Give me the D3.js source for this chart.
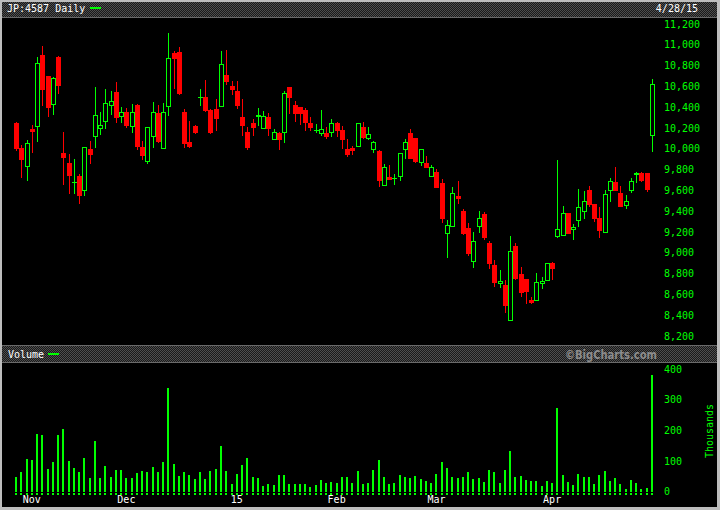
<!DOCTYPE html>
<html><head><meta charset="utf-8">
<script src="https://cdn.jsdelivr.net/npm/d3@7"></script>
<style>html,body{margin:0;padding:0;background:#000;}svg{display:block;}</style>
</head><body>
<svg id="chart" width="720" height="510"></svg>
<script>
// ---- data (trading days, Oct 29 2014 .. Apr 28 2015) ----
const openP  = [10245,10008,9822,10190,10212,10902,10700,10418,10880,9960,9863,9675,9741,9597,9998,10116,10193,10255,10409,10546,10303,10354,10207,10421,10017,9876,10116,10341,9995,10399,10918,10928,10354,10065,10216,10485,10495,10373,10380,10399,10707,10604,10556,10303,10161,10248,10303,10193,10303,10082,10149,10149,10594,10421,10399,10373,10248,10170,10142,10152,10149,10248,10181,9998,10011,10020,10210,10094,9991,9979,9645,9726,9714,9732,9991,10149,10104,9866,9863,9732,9777,9668,9178,9251,9546,9402,9238,8914,9251,9373,9094,8883,8697,8690,8341,9065,8796,8745,8546,8534,8703,8732,8902,9155,9164,9380,9216,9303,9389,9604,9469,9335,9193,9597,9681,9575,9453,9591,9748,9767,9767,10120];
const highP  = [10258,10034,10085,10229,10880,10991,10700,10693,10892,10161,9950,9902,9758,10014,10072,10594,10354,10572,10556,10642,10399,10389,10431,10431,10072,10207,10450,10418,10437,11110,10937,10976,10386,10267,10226,10575,10661,10379,10476,10937,10950,10649,10652,10479,10210,10286,10392,10363,10347,10190,10159,10553,10594,10460,10399,10392,10306,10241,10373,10210,10284,10258,10219,10094,10030,10248,10260,10210,10078,9991,9851,9844,9755,9957,10094,10187,10104,9995,9931,9841,9803,9707,9315,9630,9690,9418,9286,9200,9402,9392,9111,8931,8832,8738,9162,9094,8863,8745,8572,8803,8764,8899,8914,9892,9450,9380,9277,9613,9594,9642,9469,9443,9604,9722,9825,9639,9553,9716,9780,9774,9767,10671];
const lowP   = [9982,9722,9693,9962,10068,10411,10309,10322,10530,9649,9568,9568,9472,9549,9857,10011,10136,10193,10322,10251,10245,10203,10155,9988,9892,9851,10011,10053,9995,10318,10575,10520,10011,10011,10145,10407,10357,10145,10171,10399,10613,10520,10380,10126,9991,10126,10219,10193,10126,10082,9991,10059,10337,10261,10232,10171,10171,10152,10123,10094,10116,10110,9998,9918,9940,10020,10097,10082,9962,9636,9645,9700,9655,9693,9899,9899,9866,9837,9818,9732,9626,9289,8953,9251,9469,9171,8972,8857,9193,9123,8844,8674,8664,8418,8341,8738,8578,8511,8511,8534,8649,8732,8738,9145,9164,9184,9123,9251,9325,9443,9299,9145,9193,9491,9597,9443,9418,9572,9668,9684,9587,9972];
const closeP = [9995,9895,10053,10164,10825,10565,10395,10678,10607,9914,9741,9680,9549,10014,9940,10322,10226,10437,10457,10293,10351,10222,10354,10020,9934,10207,10351,10068,10351,10870,10860,10530,10049,10017,10155,10495,10366,10155,10286,10812,10645,10568,10414,10222,10011,10203,10322,10318,10187,10159,10085,10534,10491,10337,10337,10251,10203,10178,10190,10116,10245,10171,10088,9940,9979,10248,10107,10142,10065,9693,9822,9703,9722,9957,10062,9899,9876,9995,9818,9822,9626,9325,9264,9572,9517,9184,8988,9111,9332,9145,8895,8707,8726,8491,9014,8751,8616,8626,8520,8716,8726,8899,8844,9226,9380,9184,9245,9437,9498,9460,9325,9210,9565,9690,9597,9443,9498,9693,9767,9690,9607,10620];
const volumeK = [49,65,108,105,189,185,75,97,185,205,101,78,65,111,46,167,46,85,49,72,72,46,46,62,69,65,82,65,98,340,92,52,65,56,42,65,42,69,75,150,69,26,59,88,111,49,46,20,26,23,56,56,26,26,26,26,16,23,39,29,33,29,49,49,29,69,26,29,72,105,49,26,29,56,49,46,52,42,36,29,59,97,78,49,46,49,65,42,46,33,72,65,29,72,134,49,52,39,36,36,20,36,29,274,56,33,23,59,49,49,26,56,69,36,46,26,10,39,29,10,13,382];
const monthLabels = ["Nov","Dec","15","Feb","Mar","Apr"];
const monthIndex  = [3,21,42,61,80,102];
const priceTicks  = d3.range(8200, 11201, 200);
const volTicks    = [0,100,200,300,400];
const titleText = "JP:4587 Daily";
const dateText  = "4/28/15";

// ---- drawing ----
const svg = d3.select("#chart");
const GREEN = "#00ff00", RED = "#ff0000";
const mono = "'DejaVu Sans Mono', 'Liberation Mono', monospace";
const n = closeP.length;

const defs = svg.append("defs");
const pat = defs.append("pattern").attr("id","chk").attr("width",2).attr("height",2).attr("patternUnits","userSpaceOnUse");
pat.append("rect").attr("width",2).attr("height",2).attr("fill","#1a1a1a");
pat.append("rect").attr("width",1).attr("height",1).attr("fill","#4e4e4e");
pat.append("rect").attr("x",1).attr("y",1).attr("width",1).attr("height",1).attr("fill","#4e4e4e");

svg.attr("shape-rendering","crispEdges");
svg.append("rect").attr("width",720).attr("height",510).attr("fill","#bdbdbd");
svg.append("rect").attr("x",2).attr("y",2).attr("width",715).attr("height",505).attr("fill","#000");
// header bars
svg.append("rect").attr("x",2).attr("y",2).attr("width",715).attr("height",15).attr("fill","url(#chk)");
svg.append("rect").attr("x",2).attr("y",345).attr("width",715).attr("height",17).attr("fill","url(#chk)");
[17,345,362].forEach(y=>svg.append("line").attr("x1",2).attr("x2",717).attr("y1",y+0.5).attr("y2",y+0.5).attr("stroke","#6a6a6a"));

const x = d3.scalePoint().domain(d3.range(n)).range([16, 652]);
const y = d3.scaleLinear().domain([8200, 11200]).range([336, 24]);
const yv = d3.scaleLinear().domain([0, 400]).range([491.7, 369.3]);

// title texts
svg.append("text").attr("x",7).attr("y",12).attr("fill","#fff").attr("font-family",mono).attr("font-size",10).text(titleText);
svg.append("rect").attr("x",90).attr("y",7).attr("width",11).attr("height",2).attr("fill",GREEN);
svg.append("text").attr("x",698).attr("y",12).attr("text-anchor","end").attr("fill","#fff").attr("font-family",mono).attr("font-size",10).text(dateText);

// price axis labels
svg.append("g").selectAll("text").data(priceTicks).join("text")
  .attr("x",664).attr("y",d=>y(d)+3.5).attr("fill",GREEN).attr("font-family",mono).attr("font-size",10)
  .text(d=>d3.format(",")(d));

// candles
const cg = svg.append("g");
for (let i=0;i<n;i++){
  const cx = Math.round(x(i));
  const o=openP[i], c=closeP[i], h=highP[i], l=lowP[i];
  const up = c >= o;
  const yT = Math.round(y(Math.max(o,c))), yB = Math.round(y(Math.min(o,c)));
  const yH = Math.round(y(h)), yL = Math.round(y(l));
  if (up){
    if (yH < yT) cg.append("line").attr("x1",cx+0.5).attr("x2",cx+0.5).attr("y1",yH).attr("y2",yT).attr("stroke",GREEN);
    if (yL > yB) cg.append("line").attr("x1",cx+0.5).attr("x2",cx+0.5).attr("y1",yB).attr("y2",yL).attr("stroke",GREEN);
    if (yB - yT <= 1){
      cg.append("rect").attr("x",cx-2).attr("y",yT).attr("width",5).attr("height",1).attr("fill",GREEN);
    } else {
      cg.append("rect").attr("x",cx-2+0.5).attr("y",yT+0.5).attr("width",4).attr("height",yB-yT-1)
        .attr("fill","none").attr("stroke",GREEN);
    }
  } else {
    cg.append("line").attr("x1",cx+0.5).attr("x2",cx+0.5).attr("y1",yH).attr("y2",yL).attr("stroke",RED);
    cg.append("rect").attr("x",cx-2).attr("y",yT).attr("width",5).attr("height",Math.max(1,yB-yT)).attr("fill",RED);
  }
}

// volume header texts
svg.append("text").attr("x",8).attr("y",358).attr("fill","#fff").attr("font-family",mono).attr("font-size",10).text("Volume");
svg.append("rect").attr("x",48).attr("y",353).attr("width",11).attr("height",2).attr("fill",GREEN);
svg.append("text").attr("x",565).attr("y",359).attr("fill","#8c8c8c").attr("font-family","'DejaVu Sans', Verdana, sans-serif")
  .attr("font-weight","bold").attr("font-size",11.5).attr("textLength",92).attr("lengthAdjust","spacingAndGlyphs").text("\u00A9BigCharts.com");

// volume bars
const vg = svg.append("g");
volumeK.forEach((v,i)=>{
  const cx = Math.round(x(i));
  const top = Math.round(yv(v));
  vg.append("rect").attr("x",cx-1).attr("y",top).attr("width",2).attr("height",Math.max(0,492-top)).attr("fill",GREEN);
  vg.append("rect").attr("x",cx-1).attr("y",493).attr("width",2).attr("height",2).attr("fill",GREEN);
});

// volume axis labels
svg.append("g").selectAll("text").data(volTicks).join("text")
  .attr("x",664).attr("y",d=>yv(d)+3.5).attr("fill",GREEN).attr("font-family",mono).attr("font-size",10).text(d=>d);
svg.append("text").attr("transform","translate(713,431) rotate(-90)").attr("text-anchor","middle")
  .attr("fill",GREEN).attr("font-family",mono).attr("font-size",10).text("Thousands");

// month labels
svg.append("g").selectAll("text").data(monthLabels).join("text")
  .attr("x",(d,k)=>x(monthIndex[k])).attr("y",503).attr("text-anchor","middle")
  .attr("fill","#fff").attr("font-family",mono).attr("font-size",10).text(d=>d);
</script>
</body></html>
